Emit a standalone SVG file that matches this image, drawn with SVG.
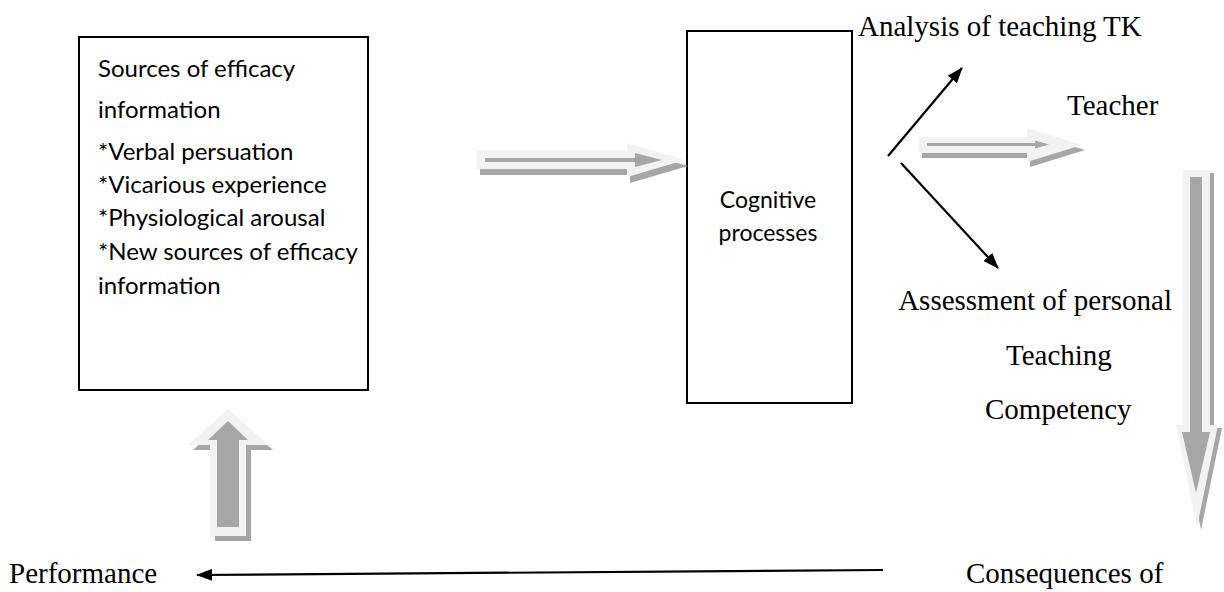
<svg xmlns="http://www.w3.org/2000/svg" width="1224" height="592" viewBox="0 0 1224 592">
<style>
.box{fill:#fff;stroke:#000;stroke-width:2}
.cal{font-family:Lato,"Open Sans","Liberation Sans",sans-serif;font-size:24px;fill:#000}
.cog{font-family:Lato,"Open Sans","Liberation Sans",sans-serif;font-size:23px;fill:#000}
.tnr{font-family:"Liberation Serif","Times New Roman",serif;font-size:29px;fill:#000}
.sh{fill:#a6a6a6}
.out{fill:#f2f2f2}
.in{fill:#a6a6a6}
.ln{stroke:#000;stroke-width:2.2;fill:none}
</style>
<defs>
<marker id="ahb" markerWidth="16" markerHeight="12" refX="15" refY="6" orient="auto" markerUnits="userSpaceOnUse" viewBox="0 0 16 12">
<path d="M0,0 L16,6 L0,12 z" fill="#000"/>
</marker>
</defs>

<g id="sources">
<rect class="box" x="79" y="37" width="289" height="353"/>
<text class="cal" x="98" y="77">Sources of efficacy</text>
<text class="cal" x="98" y="118">information</text>
<text class="cal" x="98" y="160">*Verbal persuation</text>
<text class="cal" x="98" y="193">*Vicarious experience</text>
<text class="cal" x="98" y="226">*Physiological arousal</text>
<text class="cal" x="98" y="260">*New sources of efficacy</text>
<text class="cal" x="98" y="294">information</text>
</g>

<g id="cognitive">
<rect class="box" x="687" y="31" width="165" height="372"/>
<text class="cog" x="768" y="208" text-anchor="middle">Cognitive</text>
<text class="cog" x="768" y="241" text-anchor="middle">processes</text>
</g>

<g id="analysis"><text class="tnr" x="858" y="36">Analysis of teaching TK</text></g>
<g id="teacher"><text class="tnr" x="1067" y="115">Teacher</text></g>
<g id="assessment">
<text class="tnr" x="1172" y="310" text-anchor="end">Assessment of personal</text>
<text class="tnr" x="1006" y="365">Teaching</text>
<text class="tnr" x="985" y="419">Competency</text>
</g>
<g id="performance"><text class="tnr" x="9" y="583">Performance</text></g>
<g id="consequences"><text class="tnr" x="966" y="583">Consequences of</text></g>

<g id="connectors">
<g transform="translate(3,6)"><polygon class="sh" points="477,150 627,150 627,143 685,160 627,177 627,169 477,169"/></g>
<polygon class="out" points="477,150 627,150 627,143 685,160 627,177 627,169 477,169"/>
<polygon class="in" points="485,158 635,158 635,153 662,160 635,167 635,162 485,162"/>

<g transform="translate(3,5)"><polygon class="sh" points="919,137 1027,137 1027,128 1082,145 1027,162 1027,153 919,153"/></g>
<polygon class="out" points="919,137 1027,137 1027,128 1082,145 1027,162 1027,153 919,153"/>
<polygon class="in" points="927,143 1035,143 1035,140.5 1049,144.5 1035,148.5 1035,146 927,146"/>

<g transform="translate(4,3)"><polygon class="sh" points="1183,170 1210,170 1210,425 1218,425 1197,527 1176,425 1183,425"/></g>
<polygon class="out" points="1183,170 1210,170 1210,425 1218,425 1197,527 1176,425 1183,425"/>
<polygon class="in" points="1190,177 1202,177 1202,432 1210,432 1196,493 1182,432 1190,432"/>

<g transform="translate(5,5)"><polygon class="sh" points="210,536 246,536 246,445 268,445 228,409 188,445 210,445"/></g>
<polygon class="out" points="210,536 246,536 246,445 268,445 228,409 188,445 210,445"/>
<polygon class="in" points="217,527 239,527 239,440 248,440 228,421 208,440 217,440"/>

<line class="ln" x1="888" y1="156" x2="962" y2="68" marker-end="url(#ahb)"/>
<line class="ln" x1="901" y1="163" x2="998" y2="268" marker-end="url(#ahb)"/>
<line class="ln" x1="883" y1="570" x2="197" y2="575" marker-end="url(#ahb)"/>
</g>
</svg>
